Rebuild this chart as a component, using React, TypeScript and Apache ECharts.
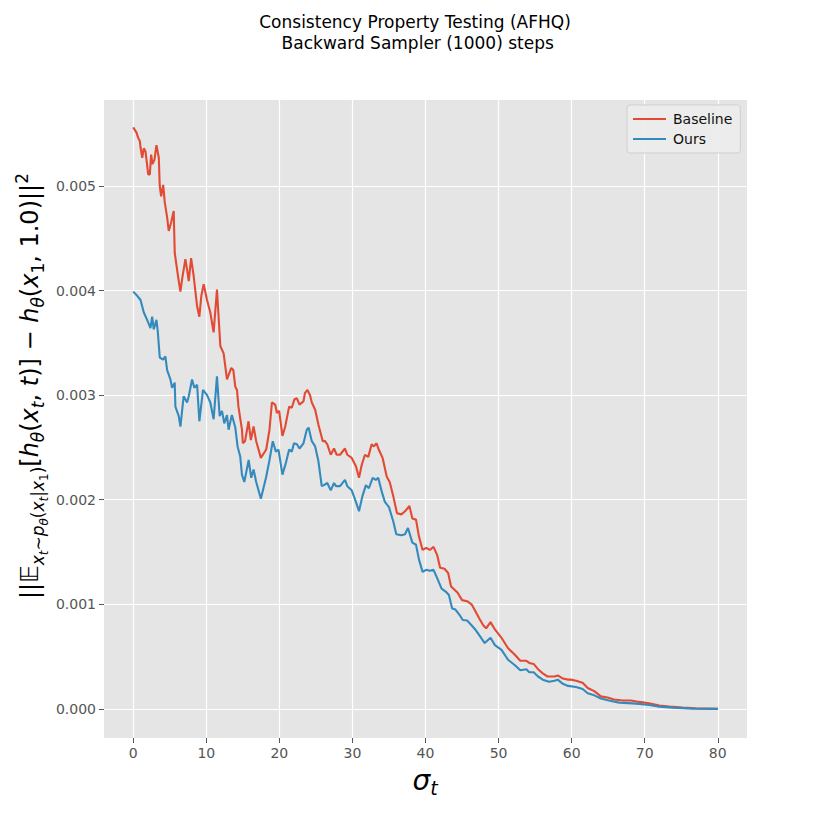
import React, { useEffect, useRef } from "react";
import * as echarts from "echarts";

const TITLE_LINE1 = "Consistency Property Testing (AFHQ)";
const TITLE_LINE2 = " Backward Sampler (1000) steps";
const SERIES_NAMES = ["Baseline", "Ours"];
const COLORS = ["#E24A33", "#348ABD"];

const X_TICKS = [0, 10, 20, 30, 40, 50, 60, 70, 80];
const Y_TICKS = [0, 0.001, 0.002, 0.003, 0.004, 0.005];
const X_MIN = -4;
const X_MAX = 84;
const Y_MIN = -0.000278;
const Y_MAX = 0.005822;

const baselineSigma = [
  0, 0.45, 0.68, 0.9, 1.0, 1.23, 1.45, 1.68, 2.05, 2.27, 2.45, 2.63, 2.9, 3.18, 3.5, 3.63, 3.82, 4.1, 4.32, 4.64,
  4.86, 5.19, 5.54, 5.68, 6.23, 6.46, 6.69, 7.14, 7.37, 7.6, 7.92, 8.27, 8.74, 9.05, 9.32, 9.64, 10.1, 10.55, 11.0,
  11.46, 11.92, 12.37, 12.83, 13.42, 13.7, 13.97, 14.2, 14.4, 14.88, 15.0, 15.3, 15.78, 16.1, 16.47, 16.83, 17.47,
  18.2, 18.65, 18.98, 19.43, 19.66, 19.97, 20.42, 20.8, 21.34, 21.7, 22.06, 22.4, 22.75, 23.3, 23.5, 23.84, 24.2,
  24.44, 24.9, 25.34, 25.94, 26.25, 26.56, 27.03, 27.48, 27.85, 28.3, 28.98, 29.3, 29.9, 30.48, 30.9, 31.26, 31.71,
  32.17, 32.63, 32.94, 33.3, 33.6, 34.13, 34.7, 35.1, 35.6, 36.1, 36.7, 37.2, 37.8, 38.2, 38.7, 39.1, 39.6, 40.1,
  40.6, 41.1, 41.6, 42.0, 42.6, 43.1, 43.5, 43.97, 44.4, 45.0, 45.7, 46.3, 46.7, 47.4, 47.9, 48.3, 48.9, 49.5, 50.4,
  51.3, 52.2, 52.97, 53.8, 54.2, 54.8, 55.4, 56.05, 56.7, 57.65, 58.1, 58.8, 59.5, 59.9, 60.6, 61.5, 62.2, 63.1,
  64.0, 64.9, 65.8, 67.0, 68.1, 69.25, 70.6, 72.0, 73.4, 75.2, 77.0, 80,
];
const baselineValues = [
  0.00556, 0.00551, 0.00546, 0.00543, 0.00537, 0.00527, 0.00536, 0.00533, 0.00511, 0.00511, 0.0053, 0.00521,
  0.00525, 0.00539, 0.00527, 0.005, 0.0049, 0.00501, 0.00484, 0.0047, 0.00457, 0.00465, 0.00476, 0.00436, 0.00409,
  0.00399, 0.00411, 0.0043, 0.0042, 0.00409, 0.00431, 0.00414, 0.00385, 0.00375, 0.00395, 0.00406, 0.00391, 0.00379,
  0.0036, 0.00401, 0.00347, 0.0034, 0.00315, 0.00326, 0.00324, 0.00308, 0.00305, 0.00289, 0.00267, 0.00254, 0.00256,
  0.00275, 0.00257, 0.0027, 0.00256, 0.0024, 0.00248, 0.00267, 0.00293, 0.00291, 0.00283, 0.00285, 0.00261, 0.0027,
  0.00289, 0.00288, 0.00296, 0.00297, 0.00291, 0.00294, 0.00302, 0.00305, 0.003, 0.00293, 0.00286, 0.00272, 0.00256,
  0.00256, 0.00253, 0.00243, 0.00249, 0.00243, 0.00243, 0.00249, 0.00243, 0.0024, 0.00232, 0.00221, 0.00233, 0.00243,
  0.00241, 0.00253, 0.00251, 0.00254, 0.00248, 0.0024, 0.00222, 0.00217, 0.00203, 0.00187, 0.00186, 0.00189, 0.00194,
  0.00182, 0.00181, 0.00165, 0.00152, 0.00154, 0.00152, 0.00155, 0.00147, 0.00135, 0.00134, 0.0013, 0.00117, 0.00114,
  0.00111, 0.00104, 0.00103, 0.001, 0.00095, 0.00086, 0.0008, 0.00077, 0.00083, 0.00076, 0.00068, 0.00058, 0.00052,
  0.00046, 0.00046, 0.00044, 0.00043, 0.00038, 0.00034, 0.00031, 0.00031, 0.00032, 0.00029, 0.00028, 0.00028,
  0.00027, 0.00025, 0.0002, 0.00017, 0.00012, 0.00011, 0.00009, 0.00008, 0.00008, 0.000067, 0.000055, 0.000032,
  0.000022, 0.000012, 0.000006, 0.0,
];

const oursSigma = [
  0, 0.55, 1.0, 1.45, 1.9, 2.36, 2.59, 2.81, 3.18, 3.36, 3.63, 4.1, 4.4, 4.64, 5.09, 5.32, 5.68, 5.77, 6.23, 6.46,
  6.9, 7.37, 7.6, 8.05, 8.37, 8.74, 9.05, 9.55, 10.1, 10.55, 11.0, 11.46, 11.83, 12.15, 12.46, 12.83, 13.05, 13.5,
  13.97, 14.28, 14.65, 14.88, 15.2, 15.8, 16.15, 16.47, 16.83, 17.47, 18.2, 18.65, 19.1, 19.52, 19.88, 20.42, 20.88,
  21.34, 21.7, 22.0, 22.4, 22.75, 23.3, 23.75, 24.0, 24.44, 24.9, 25.34, 25.8, 26.1, 26.56, 27.03, 27.48, 27.75,
  28.3, 28.98, 29.3, 29.9, 30.48, 30.9, 31.35, 31.84, 32.25, 32.77, 33.2, 33.53, 34.0, 34.44, 35.0, 35.6, 36.0, 36.7,
  37.2, 37.6, 38.2, 38.7, 39.1, 39.6, 40.1, 40.6, 41.1, 41.6, 42.2, 42.8, 43.2, 43.65, 44.1, 44.65, 45.1, 45.7, 46.3,
  46.8, 47.4, 48.1, 48.9, 49.5, 50.4, 51.3, 52.2, 52.97, 53.8, 54.2, 54.8, 55.4, 56.05, 56.9, 57.65, 58.1, 58.8, 59.5,
  60.6, 61.5, 62.2, 63.1, 64.0, 65.1, 66.5, 67.8, 69.25, 70.6, 72.0, 73.8, 76.5, 80,
];
const oursValues = [
  0.00399, 0.00395, 0.00391, 0.00379, 0.00372, 0.00364, 0.00375, 0.00363, 0.00372, 0.00361, 0.00336, 0.00334,
  0.00337, 0.00324, 0.00315, 0.00307, 0.00312, 0.00289, 0.0028, 0.0027, 0.00299, 0.00293, 0.00299, 0.00315, 0.00307,
  0.0031, 0.00275, 0.00305, 0.003, 0.00293, 0.00277, 0.00318, 0.0028, 0.00285, 0.00273, 0.00281, 0.00267, 0.00281,
  0.00269, 0.00251, 0.00241, 0.00224, 0.00217, 0.00238, 0.00221, 0.00229, 0.00217, 0.00201, 0.00222, 0.00238,
  0.00256, 0.00246, 0.00248, 0.00224, 0.00235, 0.00248, 0.00246, 0.00254, 0.00253, 0.00249, 0.00254, 0.00267,
  0.00269, 0.00256, 0.00251, 0.00237, 0.00213, 0.00214, 0.00216, 0.00209, 0.00216, 0.00213, 0.00213, 0.00219,
  0.00213, 0.00209, 0.00198, 0.00189, 0.00203, 0.00214, 0.00211, 0.00221, 0.00219, 0.00221, 0.00208, 0.00198,
  0.00193, 0.00179, 0.00167, 0.00166, 0.00167, 0.00173, 0.00159, 0.00157, 0.00143, 0.00131, 0.00133, 0.00132,
  0.00133, 0.00125, 0.00115, 0.00112, 0.00109, 0.00096, 0.00095, 0.0009, 0.00085, 0.000845, 0.0008, 0.00076, 0.0007,
  0.00063, 0.00068, 0.00061, 0.000565, 0.00047, 0.00042, 0.00037, 0.00038, 0.00035, 0.00035, 0.00031, 0.00028,
  0.00026, 0.00027, 0.00028, 0.00024, 0.00022, 0.00021, 0.00019, 0.00015, 0.00013, 0.0001, 0.00008, 0.00006,
  0.000055, 0.000048, 0.000038, 0.000022, 0.000012, 0.000003, 0.0,
];

const FONT = "DejaVu Sans";

export default function App() {
  const ref = useRef<HTMLDivElement>(null);

  useEffect(() => {
    if (!ref.current) return;
    const chart = echarts.init(ref.current, null, { renderer: "svg" });

    const baselineData = baselineSigma.map((s, i) => [s, baselineValues[i]]);
    const oursData = oursSigma.map((s, i) => [s, oursValues[i]]);

    const M = 24;
    const S = 17;
    const SS = 12;
    const rich: any = {
      n: { fontSize: M, fontFamily: FONT, color: "#555555" },
      i: { fontSize: M, fontFamily: FONT, fontStyle: "italic", color: "#555555" },
      s: { fontSize: S, fontFamily: FONT, color: "#555555", padding: [15, 0, 0, 0] },
      si: { fontSize: S, fontFamily: FONT, fontStyle: "italic", color: "#555555", padding: [15, 0, 0, 0] },
      ss: { fontSize: SS, fontFamily: FONT, color: "#555555", padding: [28, 0, 0, 0] },
      ssi: { fontSize: SS, fontFamily: FONT, fontStyle: "italic", color: "#555555", padding: [28, 0, 0, 0] },
      sup: { fontSize: S, fontFamily: FONT, color: "#555555", padding: [0, 0, 16, 0] },
    };
    const yLabel =
      "{n|||𝔼}{si|x}{ssi|t}{s|∼}{si|p}{ssi|θ}{s|(}{si|x}{ssi|t}{s||}{si|x}{ss|1}{s|)}" +
      "{n|[}{i|h}{si|θ}{n|(}{i|x}{si|t}{n|, }{i|t}{n|)] − }{i|h}{si|θ}{n|(}{i|x}{s|1}{n|, 1.0)||}{sup|2}";

    const option: any = {
      animation: false,
      backgroundColor: "#ffffff",
      grid: { left: 104, right: 83, top: 100, bottom: 92, show: true, backgroundColor: "#E5E5E5", borderWidth: 0 },
      legend: {
        show: true,
        orient: "vertical",
        left: 627,
        top: 105,
        padding: [7, 8, 7, 6],
        itemGap: 6,
        itemWidth: 33,
        itemHeight: 2,
        icon: "rect",
        backgroundColor: "rgba(236,236,236,0.9)",
        borderColor: "#cfcfcf",
        borderWidth: 1,
        borderRadius: 3,
        textStyle: { fontFamily: FONT, fontSize: 14, color: "#111111", padding: [0, 0, 0, 2] },
        data: SERIES_NAMES,
      },
      xAxis: {
        type: "value",
        min: X_MIN,
        max: X_MAX,
        minInterval: 10,
        maxInterval: 10,
        axisLine: { show: false, onZero: false },
        axisTick: { show: true, length: 5, lineStyle: { color: "#555555", width: 1 }, customValues: X_TICKS },
        axisLabel: {
          show: true,
          margin: 8,
          color: "#555555",
          fontFamily: FONT,
          fontSize: 14,
          customValues: X_TICKS,
          formatter: (v: number) => String(v),
        },
        splitLine: { show: true, lineStyle: { color: "#ffffff", width: 1.2 } },
      },
      yAxis: {
        type: "value",
        min: Y_MIN,
        max: Y_MAX,
        minInterval: 0.001,
        maxInterval: 0.001,
        axisLine: { show: false, onZero: false },
        axisTick: { show: true, length: 5, lineStyle: { color: "#555555", width: 1 }, customValues: Y_TICKS },
        axisLabel: {
          show: true,
          margin: 8,
          color: "#555555",
          fontFamily: FONT,
          fontSize: 14,
          customValues: Y_TICKS,
          formatter: (v: number) => v.toFixed(3),
        },
        splitLine: { show: true, lineStyle: { color: "#ffffff", width: 1.2 } },
      },
      series: [
        {
          name: SERIES_NAMES[0],
          type: "line",
          data: baselineData,
          showSymbol: false,
          symbol: "none",
          lineStyle: { color: COLORS[0], width: 2.1 },
          itemStyle: { color: COLORS[0] },
          z: 3,
        },
        {
          name: SERIES_NAMES[1],
          type: "line",
          data: oursData,
          showSymbol: false,
          symbol: "none",
          lineStyle: { color: COLORS[1], width: 2.1 },
          itemStyle: { color: COLORS[1] },
          z: 4,
        },
      ],
      graphic: [
        {
          type: "text",
          x: 415,
          y: 22,
          style: {
            text: TITLE_LINE1,
            fontFamily: FONT,
            fontSize: 17,
            fill: "#000000",
            align: "center",
            verticalAlign: "middle",
          },
        },
        {
          type: "text",
          x: 415,
          y: 43,
          style: {
            text: TITLE_LINE2,
            fontFamily: FONT,
            fontSize: 17,
            fill: "#000000",
            align: "center",
            verticalAlign: "middle",
          },
        },
        {
          type: "text",
          x: 425,
          y: 780,
          style: {
            text: "{a|σ}{b|t}",
            align: "center",
            verticalAlign: "middle",
            rich: {
              a: { fontSize: 28, fontFamily: FONT, fontStyle: "italic", color: "#555555" },
              b: { fontSize: 19, fontFamily: FONT, fontStyle: "italic", color: "#555555", padding: [16, 0, 0, 0] },
            },
          },
        },
        {
          type: "text",
          x: 30,
          y: 386,
          rotation: Math.PI / 2,
          style: {
            text: yLabel,
            align: "center",
            verticalAlign: "middle",
            rich,
          },
        },
      ],
    };

    chart.setOption(option);
    return () => chart.dispose();
  }, []);

  return (
    <div
      ref={ref}
      style={{ position: "fixed", left: 0, top: 0, width: 830, height: 830 }}
    />
  );
}
